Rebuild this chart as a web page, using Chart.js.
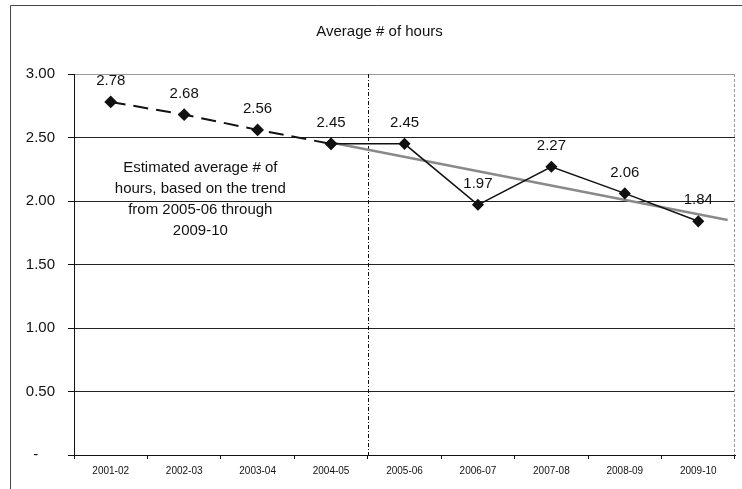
<!DOCTYPE html>
<html>
<head>
<meta charset="utf-8">
<script src="https://cdn.jsdelivr.net/npm/chart.js@4/dist/chart.umd.min.js"></script>
<style>
  html, body { margin: 0; padding: 0; background: #fff; }
  #wrap { width: 742px; height: 489px; position: relative; }
</style>
</head>
<body>
<div id="wrap"><canvas id="c"></canvas></div>
<script>
// ---- data ----
const categories = ['2001-02','2002-03','2003-04','2004-05','2005-06','2006-07','2007-08','2008-09','2009-10'];
const estimated  = [2.78, 2.68, 2.56, 2.45, null, null, null, null, null];
const actual     = [null, null, null, 2.45, 2.45, 1.97, 2.27, 2.06, 1.84];
const trendX     = [3, 8.4];
const trendY     = [2.46, 1.85];
const yTicks     = [0, 0.5, 1, 1.5, 2, 2.5, 3];
const splitAfter = '2004-05';
const titleText  = 'Average # of hours';
const noteLines  = ['Estimated average # of', 'hours, based on the trend', 'from 2005-06 through', '2009-10'];

const FONT = '"Liberation Sans", Arial, sans-serif';

const decor = {
  id: 'decor',
  beforeDraw(chart) {
    const c = chart.ctx;
    c.save();
    c.fillStyle = '#fff';
    c.fillRect(0, 0, chart.width, chart.height);
    c.strokeStyle = '#444';
    c.lineWidth = 1;
    c.beginPath();
    c.moveTo(10.5, 5.5); c.lineTo(chart.width, 5.5);
    c.moveTo(10.5, 5.5); c.lineTo(10.5, chart.height);
    c.stroke();
    c.restore();
  },
  beforeDatasetsDraw(chart) {
    const c = chart.ctx, a = chart.chartArea;
    const xt = chart.scales.xt;
    c.save();
    // right dashed border
    c.strokeStyle = '#999';
    c.lineWidth = 1;
    c.setLineDash([3, 2]);
    c.beginPath();
    c.moveTo(Math.round(a.right) - 0.5, a.top);
    c.lineTo(Math.round(a.right) - 0.5, a.bottom);
    c.stroke();
    // split line
    const sx = Math.round(xt.getPixelForValue(categories.indexOf(splitAfter) + 0.5)) + 0.5;
    c.strokeStyle = '#111';
    c.setLineDash([4, 2, 1, 2]);
    c.beginPath();
    c.moveTo(sx, a.top);
    c.lineTo(sx, a.bottom);
    c.stroke();
    c.setLineDash([]);
    // note text
    c.fillStyle = '#111';
    c.font = '15px ' + FONT;
    c.textAlign = 'center';
    c.textBaseline = 'middle';
    const nx = xt.getPixelForValue(1.22);
    const ny0 = chart.scales.y.getPixelForValue(2.26);
    noteLines.forEach((t, i) => c.fillText(t, nx, ny0 + i * 21));
    c.restore();
  },
  afterDatasetsDraw(chart) {
    const c = chart.ctx;
    c.save();
    c.fillStyle = '#111';
    c.font = '15px ' + FONT;
    c.textAlign = 'center';
    c.textBaseline = 'middle';
    [0, 1].forEach(di => {
      const meta = chart.getDatasetMeta(di);
      const vals = chart.data.datasets[di].data;
      meta.data.forEach((pt, i) => {
        const v = vals[i];
        if (v == null) return;
        if (di === 1 && estimated[i] != null) return;
        c.fillText(v.toFixed(2), pt.x, pt.y - 21);
      });
    });
    c.restore();
  }
};

new Chart(document.getElementById('c'), {
  type: 'line',
  data: {
    labels: categories,
    datasets: [
      {
        label: 'Estimated',
        data: estimated,
        borderColor: '#111',
        borderWidth: 2,
        borderDash: [15, 8],
        pointStyle: 'rectRot',
        pointRadius: 5,
        pointBackgroundColor: '#111',
        pointBorderColor: '#111',
        spanGaps: false,
        order: 1
      },
      {
        label: 'Actual',
        data: actual,
        borderColor: '#111',
        borderWidth: 1.5,
        pointStyle: 'rectRot',
        pointRadius: 5,
        pointBackgroundColor: '#111',
        pointBorderColor: '#111',
        order: 0
      },
      {
        label: 'Trend',
        xAxisID: 'xt',
        data: trendX.map((x, i) => ({ x, y: trendY[i] })),
        borderColor: '#8a8a8a',
        borderWidth: 2.5,
        pointRadius: 0,
        order: 2
      }
    ]
  },
  options: {
    responsive: true,
    maintainAspectRatio: false,
    animation: false,
    devicePixelRatio: 1,
    layout: { padding: { left: 22, right: 5, top: 0, bottom: 0 } },
    plugins: {
      legend: { display: false },
      tooltip: { enabled: false },
      title: {
        display: true,
        text: titleText,
        color: '#111',
        font: { family: FONT, size: 15, weight: 'normal' },
        padding: { top: 23, bottom: 33 }
      }
    },
    scales: {
      x: {
        type: 'category',
        offset: true,
        afterFit(s) { s.height = 34; },
        border: { display: true, color: '#111', width: 1 },
        grid: { offset: true, drawOnChartArea: false, drawTicks: true, tickLength: 4, color: '#111' },
        ticks: { color: '#111', padding: 6, maxRotation: 0, autoSkip: false, font: { family: FONT, size: 10 } }
      },
      xt: {
        type: 'linear',
        display: false,
        min: -0.5,
        max: 8.5
      },
      y: {
        min: 0,
        max: 3,
        afterFit(s) { s.width = 52; },
        afterBuildTicks(s) { s.ticks = yTicks.map(v => ({ value: v })); },
        border: { display: true, color: '#111', width: 1 },
        grid: {
          drawTicks: true,
          tickLength: 6,
          color: ctx => (ctx.tick && ctx.tick.value === 3) ? '#9a9a9a' : '#222',
          tickColor: '#111'
        },
        ticks: {
          color: '#111',
          padding: 13,
          font: { family: FONT, size: 15 },
          callback: v => v === 0 ? '-    ' : v.toFixed(2)
        }
      }
    }
  },
  plugins: [decor]
});
</script>
</body>
</html>
